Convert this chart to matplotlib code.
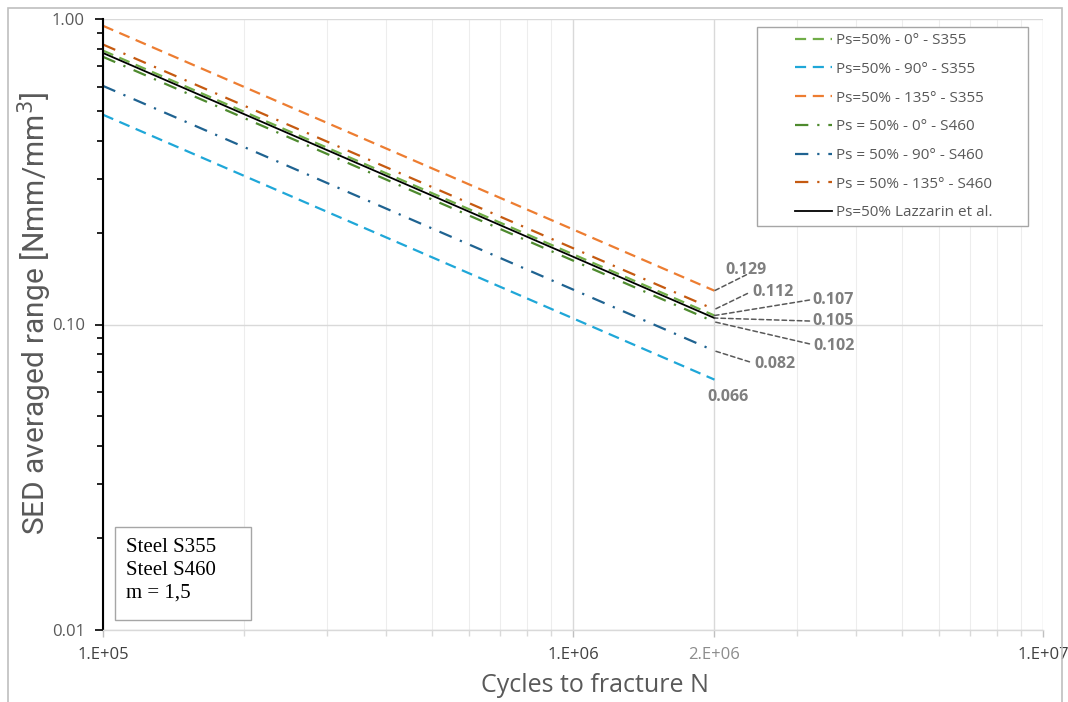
import matplotlib
matplotlib.use("Agg")
import matplotlib.pyplot as plt
from matplotlib.patches import Rectangle
from matplotlib.ticker import FixedLocator, NullFormatter, LogLocator
import numpy as np

plt.rcParams['font.family'] = ['Open Sans', 'DejaVu Sans']

# ---- data ----
labels = ["Ps=50% - 0° - S355", "Ps=50% - 90° - S355", "Ps=50% - 135° - S355",
          "Ps = 50% - 0° - S460", "Ps = 50% - 90° - S460", "Ps = 50% - 135° - S460",
          "Ps=50% Lazzarin et al."]
N_start = 1e5
N_end = 2e6
start_vals = [0.788, 0.486, 0.950, 0.752, 0.604, 0.825, 0.774]
end_vals = [0.107, 0.066, 0.129, 0.102, 0.082, 0.112, 0.105]
end_text = ["0.107", "0.066", "0.129", "0.102", "0.082", "0.112", "0.105"]
xtick_vals = [1e5, 1e6, 2e6, 1e7]
xtick_labels = ["1.E+05", "1.E+06", "2.E+06", "1.E+07"]
ytick_vals = [0.01, 0.1, 1.0]
ytick_labels = ["0.01", "0.10", "1.00"]

# layout of end labels: leader end offset and text offset (pixels from end point)
leader_off = [(95, 15.5), None, (32, 16), (95, -22), (35, -11), (33, 16), (95, -3)]
text_off = [(98, 15.5), (-7, -17), (11, 21), (99, -24), (40, -13), (38, 17.5), (98, -3)]

colors = ["#70AD47", "#1FA7D8", "#ED7D31", "#4E8A2E", "#1F6391", "#C55A11", "#000000"]
styles = [(0, (5, 3)), (0, (5, 3)), (0, (5, 3)), (0, (6, 4, 1, 4)), (0, (6, 4, 1, 4)),
          (0, (6, 4, 1, 4)), "-"]

W, H = 1068, 702
fig = plt.figure(figsize=(W/100, H/100), dpi=100)
fig.patches.append(Rectangle((8/W, -0.05), (1062-8)/W, 1 + 0.05 - 8/H,
                             transform=fig.transFigure, fill=False,
                             edgecolor="#BFBFBF", linewidth=1.2))
ax = fig.add_axes([103/W, 1-630/H, (1043-103)/W, (630-19)/H])
ax.set_xscale("log")
ax.set_yscale("log")
ax.set_xlim(1e5, 1e7)
ax.set_ylim(0.01, 1.0)

for lab, s, e, c, ls in zip(labels, start_vals, end_vals, colors, styles):
    lw = 1.3 if c == "#000000" else 1.6
    ax.plot([N_start, N_end], [s, e], color=c, linestyle=ls, linewidth=lw, label=lab)

for e, t, lo, to in zip(end_vals, end_text, leader_off, text_off):
    if lo is not None:
        ax.annotate("", xy=(N_end, e), xytext=lo, textcoords="offset pixels",
                    arrowprops=dict(arrowstyle="-", color="#595959", linestyle=(0, (3, 2)),
                                    linewidth=1.1, shrinkA=0, shrinkB=0))
    ax.annotate(t, xy=(N_end, e), xytext=to, textcoords="offset pixels",
                fontsize=11.5, fontweight="bold", color="#7F7F7F",
                ha="left", va="center")

# grid
ax.xaxis.set_minor_locator(LogLocator(base=10, subs=np.arange(2, 10)))
ax.xaxis.set_minor_formatter(NullFormatter())
ax.yaxis.set_minor_locator(LogLocator(base=10, subs=np.arange(2, 10)))
ax.yaxis.set_minor_formatter(NullFormatter())
ax.grid(which="major", axis="both", color="#D9D9D9", linewidth=1.0)
ax.grid(which="minor", axis="x", color="#EDEDED", linewidth=0.8)
ax.set_axisbelow(True)

ax.xaxis.set_major_locator(FixedLocator(xtick_vals))
ax.set_xticklabels(xtick_labels)
ax.yaxis.set_major_locator(FixedLocator(ytick_vals))
ax.set_yticklabels(ytick_labels)
for t in ax.get_xticklabels():
    t.set_fontsize(12)
    t.set_color("#404040")
ax.get_xticklabels()[2].set_color("#8C8C8C")
for t in ax.get_yticklabels():
    t.set_fontsize(12)
    t.set_color("#595959")

ax.tick_params(axis="both", which="both", direction="out")
ax.tick_params(axis="y", which="major", length=6, width=1.2, color="black", pad=7)
ax.tick_params(axis="y", which="minor", length=4, width=1.2, color="black")
ax.tick_params(axis="x", which="major", length=5, width=1, color="#BFBFBF", pad=7)
ax.tick_params(axis="x", which="minor", length=4, width=1, color="#D9D9D9")

for sp in ["top", "right"]:
    ax.spines[sp].set_visible(False)
ax.spines["left"].set_color("black")
ax.spines["left"].set_linewidth(1.5)
ax.spines["bottom"].set_color("#D9D9D9")
ax.spines["bottom"].set_linewidth(1.0)

ax.set_xlabel("Cycles to fracture N", fontsize=18, color="#595959")
ax.xaxis.label.set_va("center")
ax.xaxis.set_label_coords((595-103)/940, -(686-630)/(630-19))
ax.set_ylabel("SED averaged range [Nmm/mm$^3$]", fontsize=21.5, color="#595959",
              family="Roboto")
ax.yaxis.label.set_va("center")
ax.yaxis.set_label_coords(-(103-35)/(1043-103), (630-314)/(630-19))

# legend: frame drawn separately
ax.add_patch(Rectangle((757/W, 1-226/H), (1028-757)/W, (226-27)/H,
                       transform=fig.transFigure, fill=True, facecolor="white",
                       edgecolor="#A6A6A6", linewidth=1.0, zorder=4, clip_on=False))
leg = ax.legend(loc="upper left", bbox_to_anchor=(795/W, 1-33/H),
                bbox_transform=fig.transFigure, fontsize=11, frameon=False,
                labelspacing=0.9, handlelength=2.42, handletextpad=0.27,
                borderpad=0.0, borderaxespad=0)
leg.set_zorder(5)
for t in leg.get_texts():
    t.set_color("#595959")

# text box
ax.add_patch(Rectangle(((115-103)/940, (630-620)/611), (251-115)/940, (620-527)/611,
                       transform=ax.transAxes, fill=True, facecolor="white",
                       edgecolor="#A6A6A6", linewidth=1.0, zorder=3))
ax.text((126-103)/940, (630-570.5)/611, "Steel S355\nSteel S460\nm = 1,5",
        transform=ax.transAxes, fontsize=15, family="Liberation Serif", color="black",
        linespacing=1.28, ha="left", va="center", zorder=4)

fig.savefig("out.png", dpi=100)
